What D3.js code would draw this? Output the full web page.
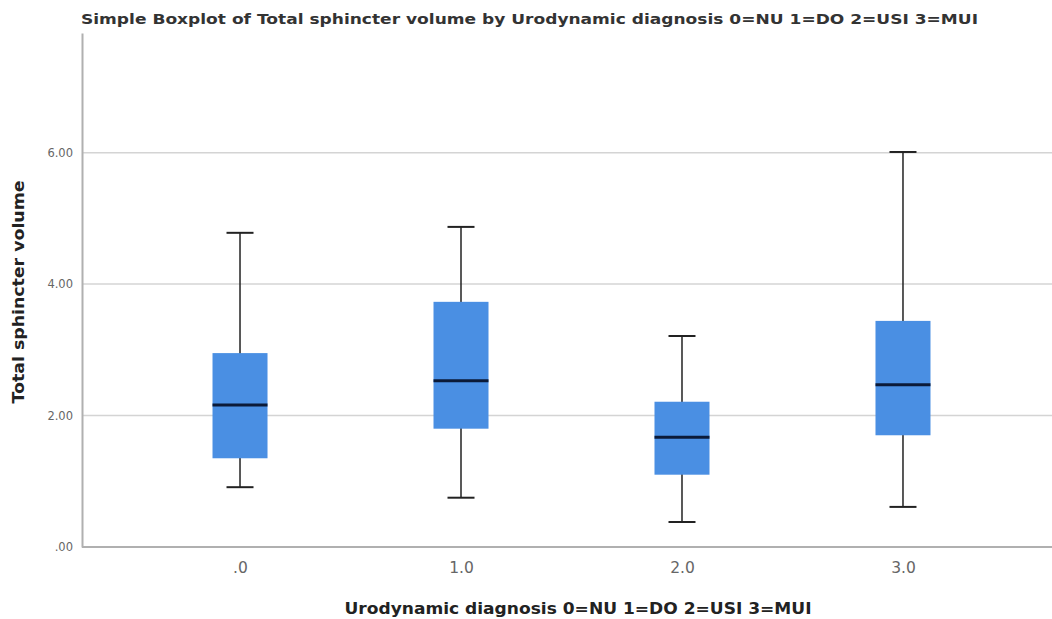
<!DOCTYPE html>
<html>
<head>
<meta charset="utf-8">
<script src="https://cdn.jsdelivr.net/npm/d3@7"></script>
<style>
  body { margin: 0; background: #fff; }
  text { font-family: "DejaVu Sans", Arial, sans-serif; }
</style>
</head>
<body>
<div id="chart"></div>
<script>
var width = 1052;
var height = 619;

// data
var categories = [".0", "1.0", "2.0", "3.0"];
var whiskerLow = [0.91, 0.75, 0.38, 0.61];
var q1 = [1.35, 1.80, 1.10, 1.70];
var median = [2.16, 2.53, 1.67, 2.47];
var q3 = [2.95, 3.73, 2.21, 3.44];
var whiskerHigh = [4.78, 4.87, 3.21, 6.01];
var yTicks = [0, 2, 4, 6];

var boxes = categories.map(function (c, i) {
    return {cat: c, lo: whiskerLow[i], q1: q1[i], med: median[i], q3: q3[i], hi: whiskerHigh[i]};
});

var margin = {top: 33, right: -9, bottom: 72, left: 82};

var svg = d3.select("#chart").
append("svg").
attr("width", width).
attr("height", height);

var x = d3.scalePoint().
domain(categories).
range([margin.left, width - margin.right]).
padding(0.715);

var y = d3.scaleLinear().
domain([0, 7.82]).
range([height - margin.bottom, margin.top]);

// grid lines
svg.append("g").
selectAll("line").
data(yTicks.filter(function (d) {return d > 0;})).
enter().
append("line").
attr("x1", margin.left).
attr("x2", width).
attr("y1", function (d) {return y(d);}).
attr("y2", function (d) {return y(d);}).
attr("stroke", "#d4d4d4").
attr("stroke-width", 1.5);

// y axis
var yAxis = svg.append("g").
attr("transform", "translate(" + margin.left + ",0)").
call(d3.axisLeft(y).tickValues(yTicks).tickSize(0).tickPadding(9).
tickFormat(function (d) {return d === 0 ? ".00" : d3.format(".2f")(d);}));
yAxis.select(".domain").attr("stroke", "#b0b0b0").attr("stroke-width", 2);
yAxis.selectAll("text").attr("font-size", 11.5).attr("fill", "#666");

// x axis
var xAxis = svg.append("g").
attr("transform", "translate(0," + y(0) + ")").
call(d3.axisBottom(x).tickSize(0).tickPadding(15));
xAxis.select(".domain").attr("stroke", "#b0b0b0").attr("stroke-width", 2).
attr("d", "M" + margin.left + ",0H" + width);
xAxis.selectAll("text").attr("font-size", 15.5).attr("fill", "#666");

var boxW = 55;
var capW = 27;

var g = svg.append("g").
selectAll("g").
data(boxes).
enter().
append("g").
attr("transform", function (d) {return "translate(" + x(d.cat) + ",0)";});

g.append("line").
attr("y1", function (d) {return y(d.lo);}).
attr("y2", function (d) {return y(d.hi);}).
attr("stroke", "#222").
attr("stroke-width", 1.5);

g.selectAll(".cap").
data(function (d) {return [d.lo, d.hi];}).
enter().
append("line").
attr("class", "cap").
attr("x1", -capW / 2).
attr("x2", capW / 2).
attr("y1", function (d) {return y(d);}).
attr("y2", function (d) {return y(d);}).
attr("stroke", "#222").
attr("stroke-width", 2);

g.append("rect").
attr("x", -boxW / 2).
attr("width", boxW).
attr("y", function (d) {return y(d.q3);}).
attr("height", function (d) {return y(d.q1) - y(d.q3);}).
attr("fill", "#4a8fe3");

g.append("line").
attr("x1", -boxW / 2).
attr("x2", boxW / 2).
attr("y1", function (d) {return y(d.med);}).
attr("y2", function (d) {return y(d.med);}).
attr("stroke", "#0b1a38").
attr("stroke-width", 3);

// titles
svg.append("text").
attr("x", 81).
attr("y", 24).
attr("font-size", 14.5).
attr("font-weight", "bold").
attr("fill", "#333").
attr("textLength", 897).
attr("lengthAdjust", "spacingAndGlyphs").
text("Simple Boxplot of Total sphincter volume by Urodynamic diagnosis 0=NU 1=DO 2=USI 3=MUI");

svg.append("text").
attr("transform", "translate(24,292) rotate(-90)").
attr("text-anchor", "middle").
attr("font-size", 16).
attr("font-weight", "bold").
attr("fill", "#222").
attr("textLength", 223).
attr("lengthAdjust", "spacingAndGlyphs").
text("Total sphincter volume");

svg.append("text").
attr("x", 578).
attr("y", 614).
attr("text-anchor", "middle").
attr("font-size", 16).
attr("font-weight", "bold").
attr("fill", "#222").
attr("textLength", 467).
attr("lengthAdjust", "spacingAndGlyphs").
text("Urodynamic diagnosis 0=NU 1=DO 2=USI 3=MUI");
</script>
</body>
</html>
